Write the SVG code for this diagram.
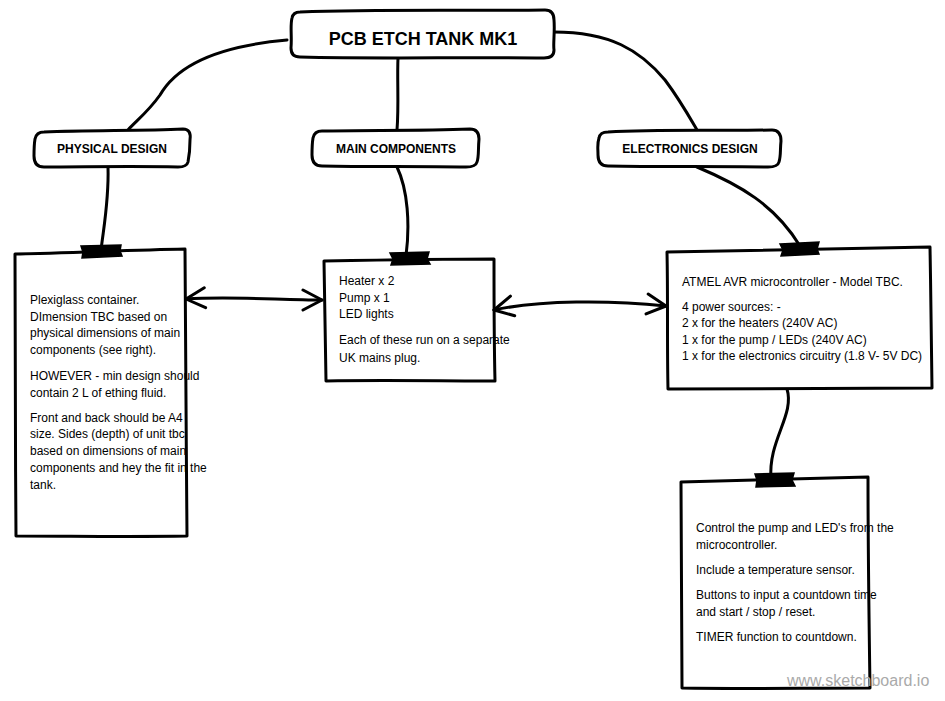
<svg xmlns="http://www.w3.org/2000/svg" width="945" height="701" viewBox="0 0 945 701">
<defs>
<style>
.box{fill:#fff;stroke:#000;stroke-width:3;stroke-linejoin:round}
.con{fill:none;stroke:#000;stroke-width:3;stroke-linecap:round}
.tape{fill:#000;stroke:#000;stroke-width:1.5}
.t{font-family:"Liberation Sans",Arial,sans-serif;font-size:12px;fill:#000}
.h{font-family:"Liberation Sans",Arial,sans-serif;font-weight:bold;fill:#000;text-anchor:middle}
</style>
<marker id="ah" viewBox="0 0 24 24" refX="22" refY="12" markerWidth="24" markerHeight="24" markerUnits="userSpaceOnUse" orient="auto-start-reverse">
<path d="M3 2 L22 12 L3 22" fill="none" stroke="#000" stroke-width="3" stroke-linecap="round" stroke-linejoin="round"/>
</marker>
</defs>
<rect width="945" height="701" fill="#fff"/>

<g id="connectors">
<path class="con" d="M287 40 C230 45 180 60 160 95 C148 112 135 122 128 130"/>
<path class="con" d="M398 58 C397 80 399 105 397 130"/>
<path class="con" d="M554 32 C610 32 640 50 665 80 C680 100 690 118 697 130"/>
<path class="con" d="M108 167 C109 200 104 225 101 250"/>
<path class="con" d="M397 167 C408 190 410 225 406 256"/>
<path class="con" d="M697 167 C740 185 775 205 800 246"/>
<path class="con" d="M787 389 C795 415 768 440 771 479"/>
</g>

<g id="title">
<path class="box" d="M300 12 C380 9 470 11 545 10 C552 10 554 14 554 20 C555 32 553 44 554 50 C554 56 550 58 544 58 C460 57 380 59 300 57 C294 57 291 54 291 48 C292 36 290 26 292 18 C293 13 296 12 300 12 Z"/>
<text class="h" x="423" y="45" font-size="18">PCB ETCH TANK MK1</text>
</g>

<g id="physical">
<path class="box" d="M44 132 C90 130 140 131 183 129 C189 129 191 133 190 140 C190 150 189 157 188 162 C187 166 184 167 178 167 C130 166 85 167 44 167 C37 167 34 163 34 156 C34 150 34 145 35 139 C36 134 39 132 44 132 Z"/>
<text class="h" x="112" y="153" font-size="12">PHYSICAL DESIGN</text>
</g>

<g id="maincomp">
<path class="box" d="M322 131 C370 130 420 131 470 129 C477 129 479 133 479 139 C478 150 479 157 477 162 C476 166 472 167 466 167 C420 166 370 167 322 166 C315 166 312 162 312 155 C312 148 312 144 313 138 C314 133 317 131 322 131 Z"/>
<text class="h" x="396" y="153" font-size="12">MAIN COMPONENTS</text>
</g>

<g id="electronics">
<path class="box" d="M608 132 C660 129 720 131 772 130 C779 130 781 135 781 141 C780 150 781 156 779 162 C778 166 774 167 768 167 C720 166 660 167 608 166 C601 166 598 162 598 155 C598 148 597 144 599 138 C600 133 603 132 608 132 Z"/>
<text class="h" x="690" y="153" font-size="12">ELECTRONICS DESIGN</text>
</g>

<g id="note-physical">
<path class="box" d="M15 254 C70 253 130 250 185 249 C186 340 186 440 187 536 C130 537 70 536 16 536 C15 440 16 340 15 254 Z"/>
<path class="tape" d="M81 246 L121 245 L120 251 L122 256 L82 258 L83 252 Z"/>
<text class="t" x="30" y="304">Plexiglass container.</text>
<text class="t" x="30" y="321">DImension TBC based on</text>
<text class="t" x="30" y="337">physical dimensions of main</text>
<text class="t" x="30" y="354">components (see right).</text>
<text class="t" x="30" y="380">HOWEVER - min design should</text>
<text class="t" x="30" y="397">contain 2 L of ething fluid.</text>
<text class="t" x="30" y="422">Front and back should be A4</text>
<text class="t" x="30" y="438">size. Sides (depth) of unit tbc</text>
<text class="t" x="30" y="455">based on dimensions of main</text>
<text class="t" x="30" y="472">components and hey the fit in the</text>
<text class="t" x="30" y="489">tank.</text>
</g>

<g id="note-main">
<path class="box" d="M324 261 C380 260 440 259 494 259 C494 300 494 340 495 381 C440 381 380 380 326 381 C325 340 325 300 324 261 Z"/>
<path class="tape" d="M390 253 L429 252 L427 259 L430 264 L391 265 L393 259 Z"/>
<text class="t" x="339" y="285">Heater x 2</text>
<text class="t" x="339" y="302">Pump x 1</text>
<text class="t" x="339" y="318">LED lights</text>
<text class="t" x="339" y="344">Each of these run on a separate</text>
<text class="t" x="339" y="362">UK mains plug.</text>
</g>

<g id="note-electronics">
<path class="box" d="M667 252 C750 250 840 249 930 247 C931 295 931 345 932 388 C850 388 760 388 668 389 C667 345 668 295 667 252 Z"/>
<path class="tape" d="M780 244 L819 242 L817 249 L819 254 L781 256 L783 250 Z"/>
<text class="t" x="682" y="286">ATMEL AVR microcontroller - Model TBC.</text>
<text class="t" x="682" y="311">4 power sources: -</text>
<text class="t" x="682" y="327">2 x for the heaters (240V AC)</text>
<text class="t" x="682" y="344">1 x for the pump / LEDs (240V AC)</text>
<text class="t" x="682" y="360">1 x for the electronics circuitry (1.8 V- 5V DC)</text>
</g>

<g id="note-timer">
<path class="box" d="M681 482 C740 481 800 479 868 477 C868 550 869 620 870 688 C800 688 740 689 682 688 C682 620 681 550 681 482 Z"/>
<path class="tape" d="M755 474 L794 473 L792 480 L795 486 L756 487 L757 480 Z"/>
<text class="t" x="696" y="532">Control the pump and LED's from the</text>
<text class="t" x="696" y="549">microcontroller.</text>
<text class="t" x="696" y="574">Include a temperature sensor.</text>
<text class="t" x="696" y="599">Buttons to input a countdown time</text>
<text class="t" x="696" y="616">and start / stop / reset.</text>
<text class="t" x="696" y="641">TIMER function to countdown.</text>
</g>

<g id="arrows">
<path class="con" d="M186 299 C230 296 280 300 322 300" marker-start="url(#ah)" marker-end="url(#ah)"/>
<path class="con" d="M494 310 C540 300 610 300 666 306" marker-start="url(#ah)" marker-end="url(#ah)"/>
</g>

<text x="787" y="686" font-family="Liberation Sans,Arial,sans-serif" font-size="16" fill="#aaa">www.sketchboard.io</text>
</svg>
